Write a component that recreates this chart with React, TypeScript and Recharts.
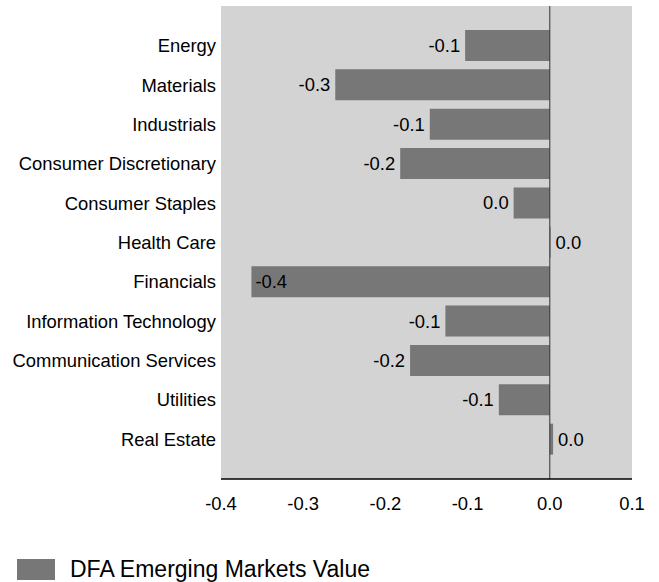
import React from 'react';
import { BarChart, Bar, XAxis, YAxis, CartesianGrid, ReferenceLine, LabelList, Legend } from 'recharts';

const sectors = [
  'Energy',
  'Materials',
  'Industrials',
  'Consumer Discretionary',
  'Consumer Staples',
  'Health Care',
  'Financials',
  'Information Technology',
  'Communication Services',
  'Utilities',
  'Real Estate',
];
const values = [-0.103, -0.261, -0.146, -0.182, -0.044, 0.001, -0.363, -0.127, -0.17, -0.062, 0.004];
const xTicks = [-0.4, -0.3, -0.2, -0.1, 0, 0.1];
const seriesName = 'DFA Emerging Markets Value';

const FONT = '"Liberation Sans", Arial, sans-serif';
const BAR_COLOR = '#777777';
const PLOT_LEFT = 221;

const fmt = (v: number) => {
  const s = v.toFixed(1);
  return s === '-0.0' ? '0.0' : s;
};

const renderLabel = (props: any) => {
  const { x, y, width, height, value } = props;
  const left = Math.min(x, x + width);
  const right = Math.max(x, x + width);
  const cy = y + height / 2;
  const text = fmt(value);
  let tx = right + 5;
  let anchor: 'start' | 'end' = 'start';
  if (value < 0) {
    if (left - 5 - 32 < PLOT_LEFT) {
      tx = left + 4;
      anchor = 'start';
    } else {
      tx = left - 5;
      anchor = 'end';
    }
  }
  return (
    <text x={tx} y={cy} textAnchor={anchor} dominantBaseline="central" fontSize={18.4} fontFamily={FONT} fill="#000">
      {text}
    </text>
  );
};

const renderLegend = () => (
  <div style={{ display: 'flex', alignItems: 'center', height: 26, fontFamily: FONT, fontSize: 23, color: '#000' }}>
    <div style={{ width: 38, height: 21, background: BAR_COLOR, marginLeft: 17, marginRight: 15 }} />
    <span>{seriesName}</span>
  </div>
);

export default function App() {
  const data = sectors.map((name, i) => ({ name, value: values[i] }));
  return (
    <div style={{ position: 'absolute', left: 0, top: 0, width: 659, height: 582, background: '#fff' }}>
      <BarChart
        width={659}
        height={582}
        data={data}
        layout="vertical"
        margin={{ top: 6, right: 27, left: 0, bottom: 37 }}
      >
        <CartesianGrid horizontal={false} vertical={false} fill="#d3d3d3" />
        <XAxis
          type="number"
          domain={[-0.4, 0.1]}
          ticks={xTicks}
          tickFormatter={(v: number) => fmt(v)}
          tickLine={false}
          tickSize={0}
          tickMargin={18}
          height={40}
          axisLine={{ stroke: '#000', strokeWidth: 1.5 }}
          tick={{ fontSize: 18.4, fontFamily: FONT, fill: '#000' }}
          allowDataOverflow
        />
        <YAxis
          type="category"
          dataKey="name"
          width={221}
          tickLine={false}
          tickSize={0}
          tickMargin={5}
          axisLine={false}
          interval={0}
          padding={{ top: 20, bottom: 20 }}
          tick={{ fontSize: 18.4, fontFamily: FONT, fill: '#000' }}
        />
        <ReferenceLine x={0} stroke="#333" strokeWidth={1} />
        <Bar dataKey="value" name={seriesName} fill={BAR_COLOR} barSize={31} isAnimationActive={false}>
          <LabelList dataKey="value" content={renderLabel} />
        </Bar>
        <Legend verticalAlign="bottom" content={renderLegend} wrapperStyle={{ left: 0, bottom: 0, width: 659 }} />
      </BarChart>
    </div>
  );
}
